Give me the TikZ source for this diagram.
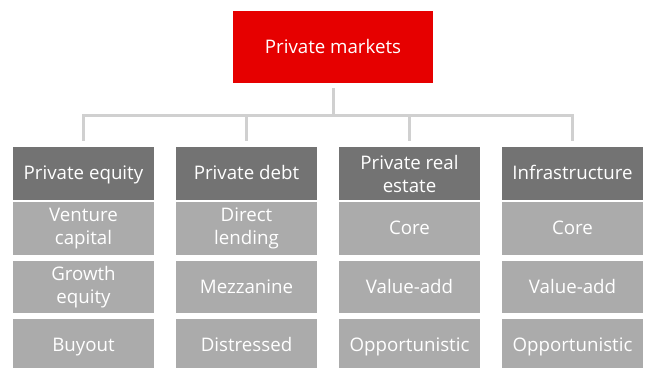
\documentclass[tikz,border=0pt]{standalone}
\usepackage{fontspec}
\setmainfont{Open Sans}
\definecolor{pmred}{HTML}{E60000}
\definecolor{headgray}{HTML}{737373}
\definecolor{subgray}{HTML}{ABABAB}
\definecolor{linkgray}{HTML}{D0D0D0}
\tikzset{
  box/.style={minimum width=141pt, inner sep=0pt, align=center, text=white,
    text height=15pt, text depth=3pt,
    font=\fontsize{18.7}{23}\selectfont},
  twoline/.style={text height={}, text depth={}},
  topbox/.style={box, fill=pmred, minimum width=200pt, minimum height=72pt},
  headbox/.style={box, fill=headgray, minimum height=53pt},
  subbox/.style={box, fill=subgray, minimum height=53pt},
  link/.style={linkgray, line width=3pt, shorten <=5pt, shorten >=6pt}
}
\begin{document}
\begin{tikzpicture}[x=1pt,y=-1pt]
    \useasboundingbox (0,0) rectangle (645,367);
    \clip (0,0) rectangle (645,367);

    \node[topbox] (pm) at (333,47) {Private markets};
    \coordinate (hub) at (333,115);

    \node[headbox] (pe) at (83.5,173.5) {Private equity};
    \node[subbox, twoline] (pe1) at (83.5,228.5) {Venture\\capital};
    \node[subbox, twoline, minimum height=52pt] (pe2) at (83.5,287) {Growth\\equity};
    \node[subbox] (pe3) at (83.5,345.5) {Buyout};

    \node[headbox] (pd) at (246.5,173.5) {Private debt};
    \node[subbox, twoline] (pd1) at (246.5,228.5) {Direct\\lending};
    \node[subbox, minimum height=52pt] (pd2) at (246.5,287) {Mezzanine};
    \node[subbox] (pd3) at (246.5,345.5) {Distressed};

    \node[headbox, twoline] (re) at (409.5,173.5) {Private real\\estate};
    \node[subbox] (re1) at (409.5,228.5) {Core};
    \node[subbox, minimum height=52pt] (re2) at (409.5,287) {Value-add};
    \node[subbox] (re3) at (409.5,345.5) {Opportunistic};

    \node[headbox] (in) at (572.5,173.5) {Infrastructure};
    \node[subbox] (in1) at (572.5,228.5) {Core};
    \node[subbox, minimum height=52pt] (in2) at (572.5,287) {Value-add};
    \node[subbox] (in3) at (572.5,345.5) {Opportunistic};

    \draw[link] (pm.south) -- (hub) -| (pe.north);
    \draw[link] (pm.south) -- (hub) -| (pd.north);
    \draw[link] (pm.south) -- (hub) -| (re.north);
    \draw[link] (pm.south) -- (hub) -| (in.north);
\end{tikzpicture}
\end{document}
